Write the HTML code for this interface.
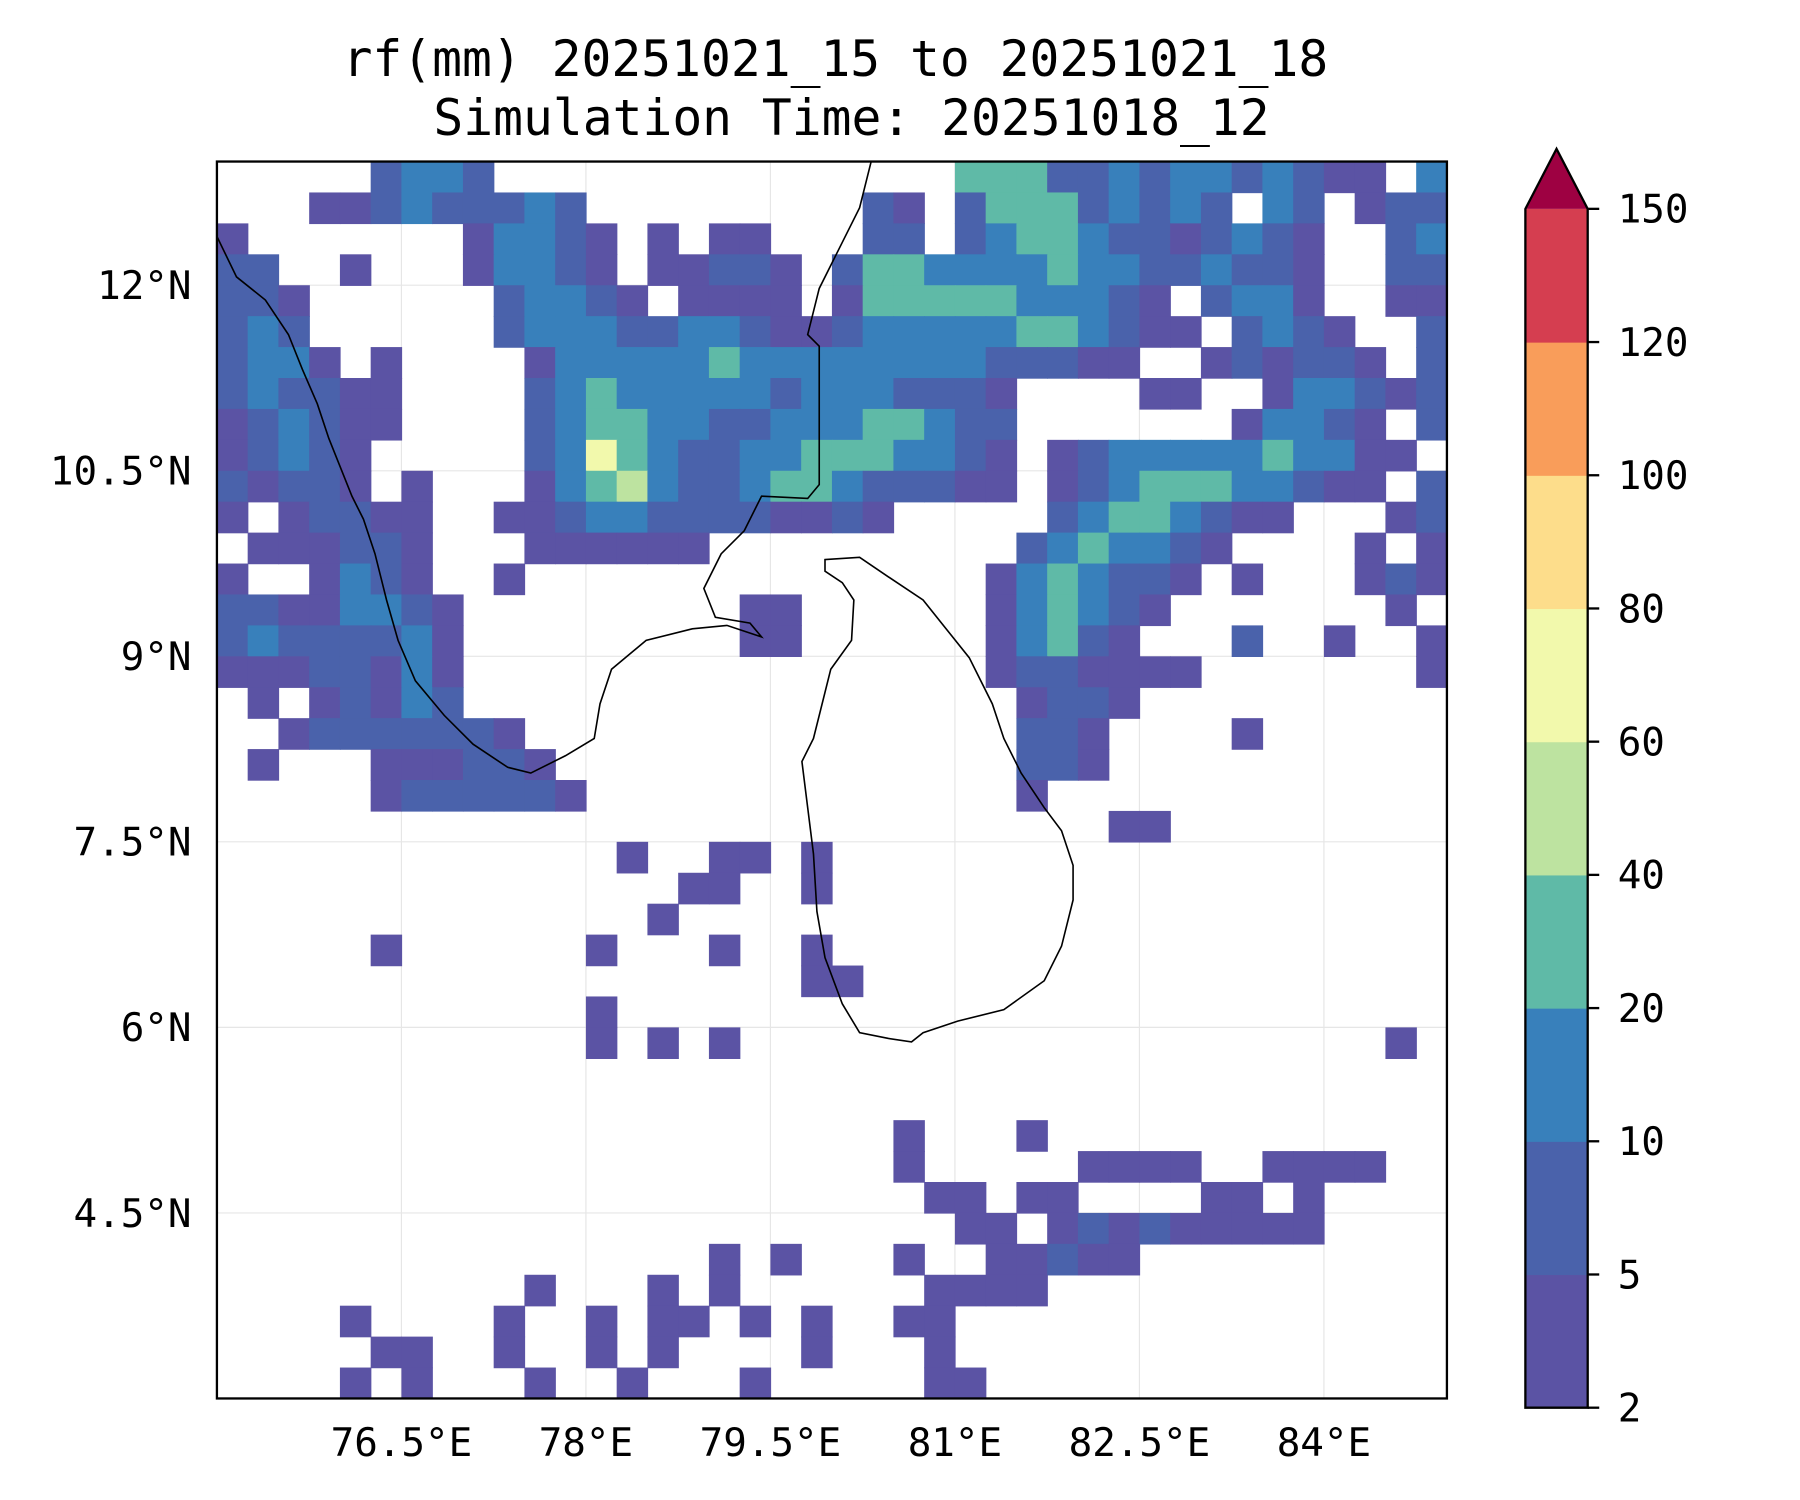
<!DOCTYPE html>
<html><head><meta charset="utf-8"><style>
html,body{margin:0;padding:0;background:#fff;}
svg{display:block;}
text{font-family:"DejaVu Sans Mono","Liberation Mono",monospace;fill:#000;}
</style></head><body>
<svg id="fig" width="1800" height="1500" viewBox="0 0 1560 1300" xmlns="http://www.w3.org/2000/svg">
<rect x="0" y="0" width="1560" height="1300" fill="#fff"/>
<text x="724" y="66" font-size="43" text-anchor="middle">rf(mm) 20251021_15 to 20251021_18</text>
<text x="738" y="117" font-size="43" text-anchor="middle">Simulation Time: 20251018_12</text>
<g id="gridlines"></g>
<g id="cells"></g>
<path fill="none" stroke="#000" stroke-width="1.4" d="M188,205 L205,240 L230,260 L250,290 L262,320 L275,350 L285,380 L295,405 L305,430 L315,450 L325,480 L335,520 L345,555 L360,590 L385,620 L410,645 L440,665 L460,670 L490,655 L515,640 L520,610 L530,580 L560,555 L600,545 L630,542 L660,552 L650,540 L620,535 L610,510 L625,480 L645,460 L660,430 L700,432 L710,420 L710,300 L700,290 L710,250 L730,210 L745,180 L755,140"/>
<path fill="none" stroke="#000" stroke-width="1.4" d="M715,485 L745,483 L770,500 L800,520 L820,545 L840,570 L860,610 L870,640 L885,670 L905,700 L920,720 L930,750 L930,780 L920,820 L905,850 L870,875 L830,885 L800,895 L790,903 L770,900 L745,895 L730,870 L715,830 L708,790 L705,740 L700,700 L695,660 L705,640 L715,600 L720,580 L738,555 L740,520 L730,505 L715,495 Z"/>
<rect x="188" y="140" width="1066" height="1072" fill="none" stroke="#000" stroke-width="2"/>
<g id="ticks"></g>
<g id="cbar"></g>
</svg>
<script>
const lonTicks = [76.5, 78, 79.5, 81, 82.5, 84];
const latTicks = [12, 10.5, 9, 7.5, 6, 4.5];
const levels = [2, 5, 10, 20, 40, 60, 80, 100, 120, 150];
const levelColors = ["#5b53a4","#4a62ab","#3880bb","#5fbaa7","#bde3a0","#f2f9ac","#fddd8b","#f99d5a","#d53e50"];
const extendColor = "#9e0142";
const gridStep = 0.25;
const rainGrid = [
"0000023320 0000000000 0000444223 2332321103",
"0001123222 3200000000 0210244423 2320320122",
"1000000013 3210101100 0220234432 2123210023",
"2200100013 3210112210 2443333433 2232210022",
"2210000002 3321011110 1444443332 1023310011",
"2320000002 3332233211 2333334432 1102321002",
"2331010000 1333334333 3333322211 0012122102",
"2322110000 2343333323 3322210000 1100133212",
"1232110000 2344332233 3443220000 0001332102",
"1232100000 2364322334 4433210123 3333433110",
"2122101000 1345322344 3222110123 4443321102",
"1012211001 1233222211 2100000234 4321100012",
"0111221000 1111110000 0000002343 3210000101",
"1001321001 0000000000 0000013432 2101000121",
"2211332100 0000000110 0000013432 1000000010",
"2322223100 0000000110 0000013421 0002001001",
"1112213100 0000000000 0000012211 1100000001",
"0101213200 0000000000 0000001221 0000000000",
"0012222221 0000000000 0000002210 0001000000",
"0100011122 1000000000 0000002210 0000000000",
"0000012222 2100000000 0000001000 0000000000",
"0000000000 0000000000 0000000001 1000000000",
"0000000000 0001001101 0000000000 0000000000",
"0000000000 0000011001 0000000000 0000000000",
"0000000000 0000100000 0000000000 0000000000",
"0000010000 0010001001 0000000000 0000000000",
"0000000000 0000000001 1000000000 0000000000",
"0000000000 0010000000 0000000000 0000000000",
"0000000000 0010101000 0000000000 0000000010",
"0000000000 0000000000 0000000000 0000000000",
"0000000000 0000000000 0000000000 0000000000",
"0000000000 0000000000 0010001000 0000000000",
"0000000000 0000000000 0010000011 1100111100",
"0000000000 0000000000 0001101100 0011010000",
"0000000000 0000000000 0000110121 2111110000",
"0000000000 0000001010 0010011211 0000000000",
"0000000000 1000101000 0001111000 0000000000",
"0000100001 0010110101 0011000000 0000000000",
"0000011001 0010100001 0001000000 0000000000",
"0000101000 1001000100 0001100000 0000000000"
];
const NS="http://www.w3.org/2000/svg";
const lonMin=75, lonMax=85, latMin=3, latMax=13;
const X0=188, X1=1254, Y0=140, Y1=1212;
function xs(lon){return X0+(lon-lonMin)/(lonMax-lonMin)*(X1-X0);}
function ys(lat){return Y0+(latMax-lat)/(latMax-latMin)*(Y1-Y0);}
function mk(tag,attrs,parent){const e=document.createElementNS(NS,tag);for(const k in attrs)e.setAttribute(k,attrs[k]);parent.appendChild(e);return e;}

const gl=document.getElementById('gridlines');
lonTicks.forEach(v=>{
  const l=mk('line',{x1:xs(v),x2:xs(v),y1:Y0,y2:Y1,stroke:'#e6e6e6','stroke-width':1},gl);
  
  
});
latTicks.forEach(v=>{
  const l=mk('line',{x1:X0,x2:X1,y1:ys(v),y2:ys(v),stroke:'#e6e6e6','stroke-width':1},gl);
  
  
});

const cg=document.getElementById('cells');
rainGrid.forEach((row,r)=>{
  const s=row.replace(/ /g,'');
  for(let c=0;c<s.length;c++){
    const lv=+s[c];
    if(!lv) continue;
    const lon=lonMin+c*gridStep, lat=latMax-r*gridStep;
    const x=xs(lon), y=ys(lat), w=xs(lon+gridStep)-x, h=ys(lat-gridStep)-y;
    const rc=mk('rect',{x:x,y:y,width:w+0.6,height:h+0.6,fill:levelColors[lv-1]},cg);
    
    
  }
});

const tg=document.getElementById('ticks');
lonTicks.forEach(v=>{
  const t=mk('text',{x:xs(v),y:1262,'font-size':34,'text-anchor':'middle'},tg);
  t.textContent=v+'°E';
  
  
});
latTicks.forEach(v=>{
  const t=mk('text',{x:166,y:ys(v)+12,'font-size':34,'text-anchor':'end'},tg);
  t.textContent=v+'°N';
  
  
});

const cb=document.getElementById('cbar');
const CBX=1322, CBW=54, CBT=181, CBB=1220, TIP=129;
const n=levels.length-1;
function cy(i){return CBB-i*(CBB-CBT)/n;}
for(let i=0;i<n;i++){
  const r=mk('rect',{x:CBX,y:cy(i+1),width:CBW,height:cy(i)-cy(i+1)+0.5,fill:levelColors[i]},cb);
  
  
}
const tri=mk('polygon',{points:`${CBX},${CBT} ${CBX+CBW/2},${TIP} ${CBX+CBW},${CBT}`,fill:extendColor},cb);


const outline=mk('path',{d:`M${CBX},${CBB} L${CBX},${CBT} L${CBX+CBW/2},${TIP} L${CBX+CBW},${CBT} L${CBX+CBW},${CBB} Z`,fill:'none',stroke:'#000','stroke-width':2},cb);


levels.forEach((v,i)=>{
  const tk=mk('line',{x1:CBX+CBW,x2:CBX+CBW+10,y1:cy(i),y2:cy(i),stroke:'#000','stroke-width':2},cb);
  
  
  const t=mk('text',{x:1402,y:cy(i)+12,'font-size':34},cb);
  t.textContent=v;
  
  
});
</script>
</body></html>
